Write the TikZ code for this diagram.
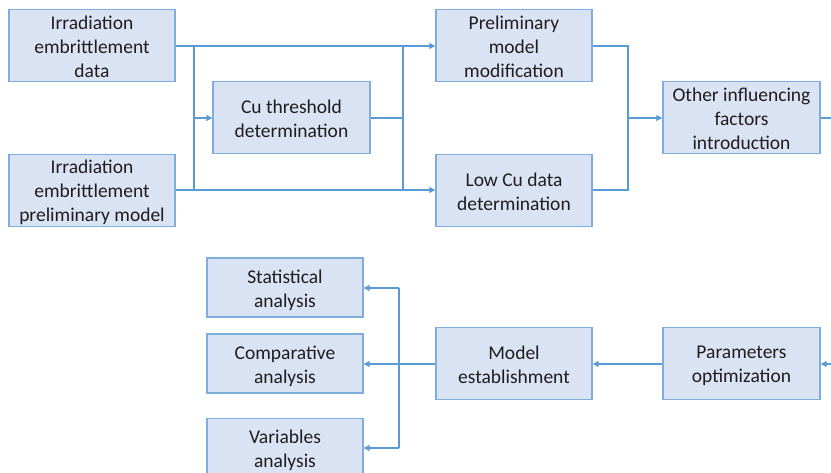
\documentclass[tikz,border=0pt]{standalone}
\usepackage{fontspec}
\setmainfont{Carlito}
\usetikzlibrary{arrows.meta,calc}
\definecolor{boxfill}{HTML}{DAE3F3}
\definecolor{boxdraw}{HTML}{7FAEDD}
\definecolor{linec}{HTML}{5B9BD5}
\definecolor{txt}{HTML}{1E1E1E}
\begin{document}
\begin{tikzpicture}[x=1pt,y=1pt,
  box/.style={draw=boxdraw,line width=1.4pt,fill=boxfill,inner sep=0pt},
  bigbox/.style={box,minimum width=#1,minimum height=72pt},
  smallbox/.style={box,minimum width=156pt,minimum height=59pt},
  lbl/.style={align=center,inner sep=0pt,text=txt,font=\fontsize{19.5}{24}\selectfont},
  conn/.style={draw=linec,line width=1.2pt},
  arr/.style={conn,-{Triangle[length=6pt,width=6pt]}}]
\useasboundingbox (0,0) rectangle (831,472);
\clip (0,0) rectangle (831,472);
% top row boxes
\node[bigbox=166pt] (A) at (92,426.5) {};
\node[bigbox=166pt] (B) at (92,281.5) {};
\node[bigbox=157pt] (C) at (291.5,354.5) {};
\node[bigbox=156pt] (D) at (514,426.5) {};
\node[bigbox=156pt] (E) at (514,281.5) {};
\node[bigbox=157pt] (F) at (741.5,354.5) {};
% bottom row boxes
\node[bigbox=157pt] (G) at (741.5,108.5) {};
\node[bigbox=156pt] (H) at (514,108.5) {};
\node[smallbox] (S) at (285,184.5) {};
\node[smallbox] (P) at (285,108.5) {};
\node[smallbox] (V) at (285,24) {};
% texts
\node[lbl] (At) at ([yshift=-1.5pt]A.center) {Irradiation\\embrittlement\\data};
\node[lbl] (Bt) at ([yshift=-2pt]B.center) {Irradiation\\embrittlement\\preliminary model};
\node[lbl] (Ct) at ([yshift=-1.5pt]C.center) {Cu threshold\\determination};
\node[lbl] (Dt) at ([yshift=-1.5pt]D.center) {Preliminary\\model\\modification};
\node[lbl] (Et) at ([yshift=-1.5pt]E.center) {Low Cu data\\determination};
\node[lbl] (Ft) at ([yshift=-1.5pt]F.center) {Other influencing\\factors\\introduction};
\node[lbl] (Gt) at ([yshift=-2pt]G.center) {Parameters\\optimization};
\node[lbl] (Ht) at ([yshift=-1.5pt]H.center) {Model\\establishment};
\node[lbl] (St) at ([yshift=-3pt]S.center) {Statistical\\analysis};
\node[lbl] (Pt) at ([yshift=-2.5pt]P.center) {Comparative\\analysis};
\node[lbl] (Vt) at ([yshift=-2.5pt]V.center) {Variables\\analysis};
% junction coordinates
\coordinate (j1t) at (194,426);
\coordinate (j1m) at (194,354);
\coordinate (j1b) at (194,282);
\coordinate (j2t) at (403,426);
\coordinate (j2m) at (403,354);
\coordinate (j2b) at (403,282);
\coordinate (j3t) at (628,426);
\coordinate (j3m) at (628,354);
\coordinate (j3b) at (628,282);
\coordinate (eR) at (831,354);
\coordinate (eG) at (831,108);
\coordinate (j4t) at (399,184);
\coordinate (j4b) at (399,24);
% connectors
\draw[arr] (A.east |- j1t) -- (D.west |- j1t);
\draw[arr] (B.east |- j1b) -- (E.west |- j1b);
\draw[conn] (j1t) -- (j1b);
\draw[arr] (j1m) -- (C.west |- j1m);
\draw[conn] (C.east |- j2m) -- (j2m);
\draw[conn] (j2t) -- (j2b);
\draw[conn] (D.east |- j3t) -- (j3t) -- (j3b) -- (E.east |- j3b);
\draw[arr] (j3m) -- (F.west |- j3m);
\draw[conn] (F.east |- eR) -- (eR);
\draw[arr] (eG) -- (G.east |- eG);
\draw[arr] (G.west |- eG) -- (H.east |- eG);
\draw[arr] (H.west |- eG) -- (P.east |- eG);
\draw[conn] (j4t) -- (j4b);
\draw[arr] (j4t) -- (S.east |- j4t);
\draw[arr] (j4b) -- (V.east |- j4b);
\end{tikzpicture}
\end{document}
